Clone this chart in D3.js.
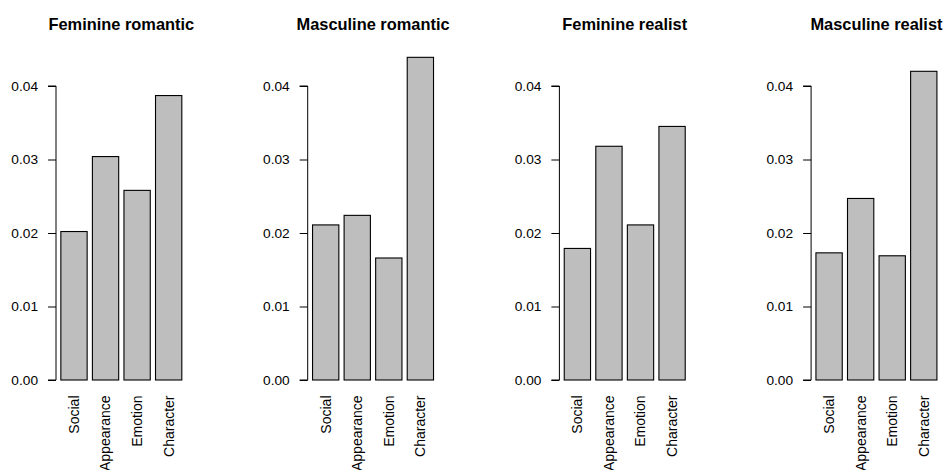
<!DOCTYPE html>
<html>
<head>
<meta charset="utf-8">
<script src="https://cdn.jsdelivr.net/npm/d3@7"></script>
<style>
    body { margin: 0; background: #fff; }
    svg { display: block; font-family: "Liberation Sans", Arial, sans-serif; }
</style>
</head>
<body>
<script>
var categories = ["Social", "Appearance", "Emotion", "Character"];
var panelTitles = ["Feminine romantic", "Masculine romantic",
                   "Feminine realist", "Masculine realist"];
var femRomantic  = [0.0202, 0.0304, 0.0258, 0.0387];
var mascRomantic = [0.0211, 0.0224, 0.0166, 0.0439];
var femRealist   = [0.0179, 0.0318, 0.0211, 0.0345];
var mascRealist  = [0.0173, 0.0247, 0.0169, 0.0420];
var yTicks = [0, 0.01, 0.02, 0.03, 0.04];

var series = [femRomantic, mascRomantic, femRealist, mascRealist];

var width = 944, height = 470;
var panelStep = 251.7,     // distance between panels
    axisLeft = 56,         // x of first y axis
    unit = 26.3;           // px per bar-width unit

var svg = d3.select("body").append("svg")
    .attr("width", width)
    .attr("height", height);

svg.append("rect").attr("width", width).attr("height", height)
    .attr("fill", "#fff");

// R barplot: bars of width 1, space 0.2 -> [0.2, 4.8], padded 4%
var xScale = d3.scaleLinear()
    .domain([0.016, 4.984])
    .range([0, 4.968 * unit]);

// shared y scale for all panels
var yScale = d3.scaleLinear().domain([0, 0.04]).range([380, 86]);

var yAxis = d3.axisLeft(yScale)
    .tickValues(yTicks)
    .tickSize(8)
    .tickPadding(10)
    .tickFormat(d3.format(".2f"));

series.forEach(function(vals, p) {
    var g = svg.append("g")
        .attr("transform", "translate(" + (axisLeft + p * panelStep) + ",0)");

    // title, centred over the plot region
    g.append("text")
        .attr("x", xScale.range()[1] / 2)
        .attr("y", 29.5)
        .attr("text-anchor", "middle")
        .attr("font-size", "16.4px")
        .attr("font-weight", "bold")
        .attr("fill", "#000")
        .text(panelTitles[p]);

    // bars
    g.selectAll("rect.bar")
        .data(vals)
        .enter()
        .append("rect")
        .attr("class", "bar")
        .attr("x", function(d, i) { return xScale(0.2 + i * 1.2); })
        .attr("width", function() { return xScale(1) - xScale(0); })
        .attr("y", function(d) { return yScale(d); })
        .attr("height", function(d) { return yScale(0) - yScale(d); })
        .attr("fill", "#bebebe")
        .attr("stroke", "#000")
        .attr("stroke-width", 1.1);

    // y axis, line only from first to last tick like R
    var ax = g.append("g").call(yAxis);
    ax.select(".domain")
        .attr("d", "M-8," + yScale(0) + "H0V" + yScale(0.04) + "H-8")
        .attr("stroke", "#000");
    ax.selectAll(".tick line").attr("stroke", "#000");
    ax.selectAll(".tick text")
        .attr("font-size", "13.7px")
        .attr("font-family", "Liberation Sans, Arial, sans-serif")
        .attr("fill", "#000");

    // category labels, perpendicular to axis (las = 2)
    g.selectAll("text.cat")
        .data(categories)
        .enter()
        .append("text")
        .attr("class", "cat")
        .attr("transform", function(d, i) {
            return "translate(" + xScale(0.7 + i * 1.2) + ",395.5) rotate(-90)";
        })
        .attr("text-anchor", "end")
        .attr("dy", "0.35em")
        .attr("font-size", "14px")
        .attr("fill", "#000")
        .text(function(d) { return d; });
});
</script>
</body>
</html>
